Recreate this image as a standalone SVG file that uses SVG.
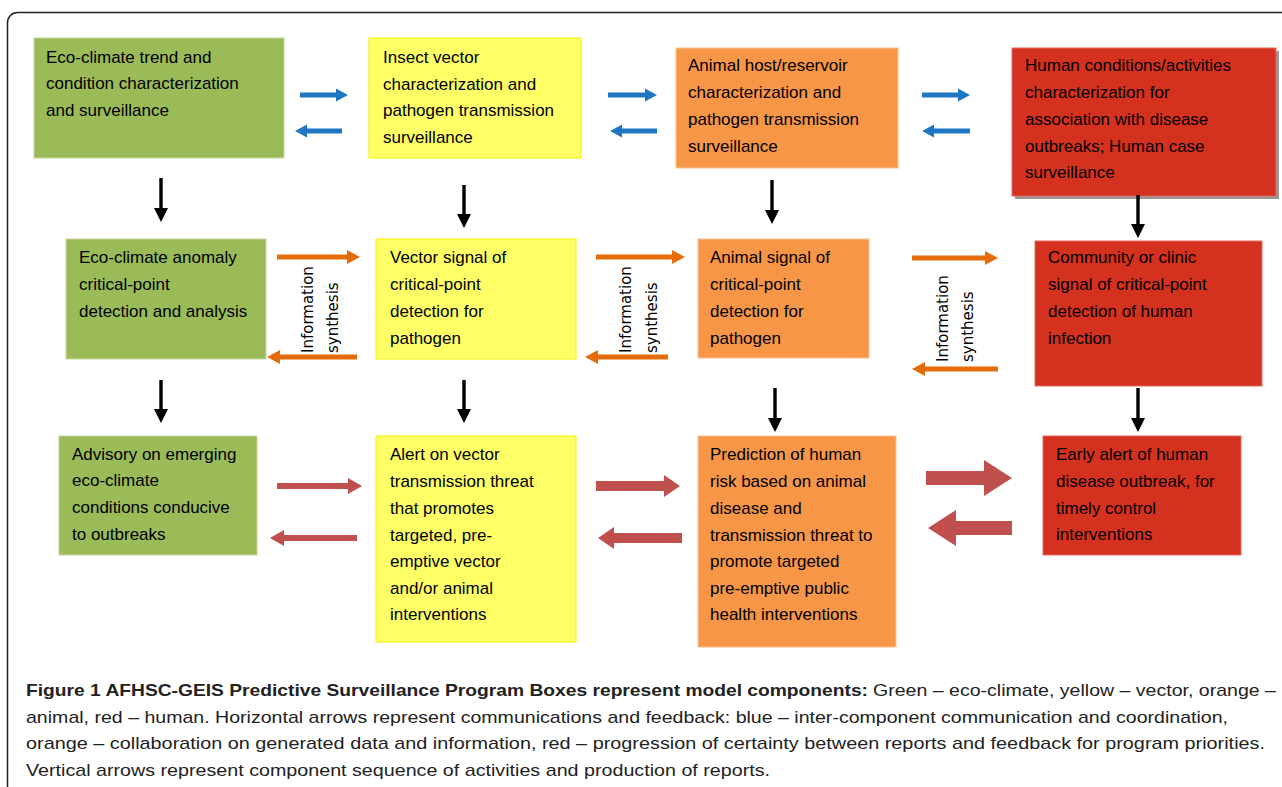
<svg xmlns="http://www.w3.org/2000/svg" width="1282" height="787" viewBox="0 0 1282 787">
<defs>
<style>
.t{font-family:"Liberation Sans",Arial,sans-serif;font-size:17px;fill:#000}
.r{font-family:"DejaVu Sans","Liberation Sans",sans-serif;font-size:15px;fill:#000}
.c{font-family:"Liberation Sans",Arial,sans-serif;font-size:17px;fill:#222}
.g{fill:#9BBB59;stroke:#C3D69B;stroke-width:1}
.y{fill:#FFFF66;stroke:#F2F200;stroke-width:1}
.o{fill:#F79646;stroke:#FAC090;stroke-width:1}
.rd{fill:#D5311F;stroke:#E46A5E;stroke-width:1}
.blue{fill:#1F77C4}
.org{fill:#E46C0A}
.red{fill:#C0504D}
.blk{fill:#000}
</style>
</defs>
<rect x="0" y="0" width="1282" height="787" fill="#fff"/>
<rect x="7.5" y="12.5" width="1310" height="800" rx="10" fill="none" stroke="#222" stroke-width="1.5"/>

<g id="n1"><rect class="g" x="34" y="38" width="250" height="120"/>
<text class="t" x="46" y="63">Eco-climate trend and</text><text class="t" x="46" y="89">condition characterization</text><text class="t" x="46" y="116">and surveillance</text></g>
<g id="n2"><rect class="y" x="369" y="38" width="212" height="120"/>
<text class="t" x="383" y="63">Insect vector</text><text class="t" x="383" y="90">characterization and</text><text class="t" x="383" y="116">pathogen transmission</text><text class="t" x="383" y="143">surveillance</text></g>
<g id="n3"><rect class="o" x="676" y="48" width="222" height="120"/>
<text class="t" x="688" y="71">Animal host/reservoir</text><text class="t" x="688" y="98">characterization and</text><text class="t" x="688" y="125">pathogen transmission</text><text class="t" x="688" y="152">surveillance</text></g>
<g id="n4"><rect x="1015" y="51" width="264" height="148" fill="#999"/><rect class="rd" x="1012" y="48" width="264" height="148"/>
<text class="t" x="1025" y="71">Human conditions/activities</text><text class="t" x="1025" y="98">characterization for</text><text class="t" x="1025" y="125">association with disease</text><text class="t" x="1025" y="152">outbreaks; Human case</text><text class="t" x="1025" y="178">surveillance</text></g>

<g id="n5"><rect class="g" x="66" y="239" width="200" height="120"/>
<text class="t" x="79" y="263">Eco-climate anomaly</text><text class="t" x="79" y="290">critical-point</text><text class="t" x="79" y="317">detection and analysis</text></g>
<g id="n6"><rect class="y" x="376" y="239" width="200" height="120"/>
<text class="t" x="390" y="263">Vector signal of</text><text class="t" x="390" y="290">critical-point</text><text class="t" x="390" y="317">detection for</text><text class="t" x="390" y="344">pathogen</text></g>
<g id="n7"><rect class="o" x="698" y="239" width="171" height="119"/>
<text class="t" x="710" y="263">Animal signal of</text><text class="t" x="710" y="290">critical-point</text><text class="t" x="710" y="317">detection for</text><text class="t" x="710" y="344">pathogen</text></g>
<g id="n8"><rect class="rd" x="1035" y="241" width="227" height="145"/>
<text class="t" x="1048" y="263">Community or clinic</text><text class="t" x="1048" y="290">signal of critical-point</text><text class="t" x="1048" y="317">detection of human</text><text class="t" x="1048" y="344">infection</text></g>

<g id="n9"><rect class="g" x="59" y="436" width="198" height="119"/>
<text class="t" x="72" y="460">Advisory on emerging</text><text class="t" x="72" y="486">eco-climate</text><text class="t" x="72" y="513">conditions conducive</text><text class="t" x="72" y="540">to outbreaks</text></g>
<g id="n10"><rect class="y" x="376" y="436" width="200" height="206"/>
<text class="t" x="390" y="460">Alert on vector</text><text class="t" x="390" y="487">transmission threat</text><text class="t" x="390" y="514">that promotes</text><text class="t" x="390" y="541">targeted,  pre-</text><text class="t" x="390" y="567">emptive vector</text><text class="t" x="390" y="594">and/or animal</text><text class="t" x="390" y="620">interventions</text></g>
<g id="n11"><rect class="o" x="698" y="436" width="198" height="211"/>
<text class="t" x="710" y="460">Prediction of human</text><text class="t" x="710" y="487">risk based on animal</text><text class="t" x="710" y="514">disease and</text><text class="t" x="710" y="541">transmission threat to</text><text class="t" x="710" y="567">promote targeted</text><text class="t" x="710" y="594">pre-emptive public</text><text class="t" x="710" y="620">health interventions</text></g>
<g id="n12"><rect class="rd" x="1043" y="436" width="198" height="119"/>
<text class="t" x="1056" y="460">Early alert of human</text><text class="t" x="1056" y="487">disease outbreak, for</text><text class="t" x="1056" y="514">timely control</text><text class="t" x="1056" y="540">interventions</text></g>

<g id="labels">
<text class="r" transform="translate(313,353) rotate(-90)">Information</text>
<text class="r" transform="translate(338,353) rotate(-90)">synthesis</text>
<text class="r" transform="translate(631,353) rotate(-90)">Information</text>
<text class="r" transform="translate(657,353) rotate(-90)">synthesis</text>
<text class="r" transform="translate(948,362) rotate(-90)">Information</text>
<text class="r" transform="translate(973,362) rotate(-90)">synthesis</text>
</g>

<g id="connectors">
<!-- blue -->
<path class="blue" d="M300,92.5H336V88.5L348,95L336,101.5V97.5H300Z"/>
<path class="blue" d="M342,128.5H307V124.5L295,131L307,137.5V133.5H342Z"/>
<path class="blue" d="M608,92.5H645V88.5L657,95L645,101.5V97.5H608Z"/>
<path class="blue" d="M657,128.5H622V124.5L610,131L622,137.5V133.5H657Z"/>
<path class="blue" d="M922,92.5H958V88.5L970,95L958,101.5V97.5H922Z"/>
<path class="blue" d="M970,128.5H934V124.5L922,131L934,137.5V133.5H970Z"/>
<!-- orange -->
<path class="org" d="M277,254.5H347V250L360,257L347,264V259.5H277Z"/>
<path class="org" d="M357,354.5H280V350L267,357L280,364V359.5H357Z"/>
<path class="org" d="M596,254.5H672V250L685,257L672,264V259.5H596Z"/>
<path class="org" d="M668,354.5H598V350L585,357L598,364V359.5H668Z"/>
<path class="org" d="M912,255.5H985V251L998,258L985,265V260.5H912Z"/>
<path class="org" d="M998,366.5H925V362L912,369L925,376V371.5H998Z"/>
<!-- red -->
<path class="red" d="M277,483H348V478L362,486L348,494V489H277Z"/>
<path class="red" d="M357,535H284V530L270,538L284,546V541H357Z"/>
<path class="red" d="M596,481H664V475L680,486L664,497V491H596Z"/>
<path class="red" d="M682,533H614V527L598,538L614,549V543H682Z"/>
<path class="red" d="M926,471H984V460L1012,478L984,496V485H926Z"/>
<path class="red" d="M1012,521H956V510L928,528L956,546V535H1012Z"/>
<!-- black vertical -->
<path class="blk" d="M159.3,178H162.7V208H168L161,222L154,208H159.3Z"/>
<path class="blk" d="M462.3,185H465.7V214H471L464,228L457,214H462.3Z"/>
<path class="blk" d="M770.3,180H773.7V210H779L772,224L765,210H770.3Z"/>
<path class="blk" d="M1136.3,195H1139.7V224H1145L1138,238L1131,224H1136.3Z"/>
<path class="blk" d="M159.3,380H162.7V409H168L161,423L154,409H159.3Z"/>
<path class="blk" d="M462.3,380H465.7V409H471L464,423L457,409H462.3Z"/>
<path class="blk" d="M773.3,388H776.7V418H782L775,432L768,418H773.3Z"/>
<path class="blk" d="M1136.3,388H1139.7V418H1145L1138,432L1131,418H1136.3Z"/>
</g>

<g id="caption">
<text class="c" x="26" y="696" font-weight="bold" fill="#111" textLength="842" lengthAdjust="spacingAndGlyphs">Figure 1 AFHSC-GEIS Predictive Surveillance Program Boxes represent model components:</text>
<text class="c" x="873" y="696" textLength="403" lengthAdjust="spacingAndGlyphs">Green – eco-climate, yellow – vector, orange –</text>
<text class="c" x="26" y="723" textLength="1202" lengthAdjust="spacingAndGlyphs">animal, red – human. Horizontal arrows represent communications and feedback: blue – inter-component communication and coordination,</text>
<text class="c" x="26" y="749" textLength="1239" lengthAdjust="spacingAndGlyphs">orange – collaboration on generated data and information, red – progression of certainty between reports and feedback for program priorities.</text>
<text class="c" x="26" y="776" textLength="744" lengthAdjust="spacingAndGlyphs">Vertical arrows represent component sequence of activities and production of reports.</text>
</g>
</svg>
